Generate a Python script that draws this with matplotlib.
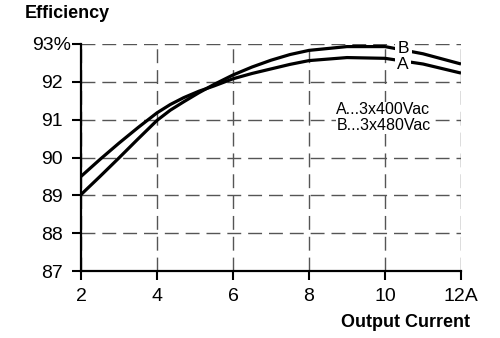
import numpy as np
import matplotlib.pyplot as plt
from matplotlib.transforms import ScaledTranslation

plt.rcParams['font.family'] = ['Liberation Sans', 'DejaVu Sans']

# Werte
x_a = [2, 2.5, 3, 3.5, 4, 4.35, 4.7, 5.1, 5.5, 6, 6.5, 7, 7.5, 8, 9, 10, 11, 12]
eff_a = [89.5, 89.95, 90.38, 90.79, 91.18, 91.4, 91.58, 91.75, 91.89, 92.08, 92.22, 92.34, 92.46, 92.56, 92.64, 92.62, 92.47, 92.23]
x_b = [2, 2.5, 3, 3.5, 4, 4.35, 4.7, 5.1, 5.5, 6, 6.5, 7, 7.5, 8, 9, 10, 11, 12]
eff_b = [89.02, 89.5, 89.99, 90.49, 90.98, 91.25, 91.47, 91.71, 91.93, 92.18, 92.39, 92.57, 92.72, 92.83, 92.93, 92.93, 92.74, 92.47]

xticks = [2, 4, 6, 8, 10, 12]
xlabels = ["2", "4", "6", "8", "10", "12A"]
yticks = [87, 88, 89, 90, 91, 92, 93]
ylabels = ["87", "88", "89", "90", "91", "92", "93%"]

fig = plt.figure(figsize=(5, 3.38), dpi=100)
ax = fig.add_axes([0.162, 0.198, 0.76, 0.672])

ax.plot(x_a, eff_a, c="black", lw=2.3, solid_capstyle="butt", zorder=3)
ax.plot(x_b, eff_b, c="black", lw=2.3, solid_capstyle="butt", zorder=3)

# Kurvenbeschriftung mit weissem Hintergrund (unterbricht die Linie)
ax.text(10.49, 92.87, "B", fontsize=12.5, ha="center", va="center", zorder=4,
        bbox=dict(facecolor="white", edgecolor="none", pad=1.8))
ax.text(10.48, 92.46, "A", fontsize=12.5, ha="center", va="center", zorder=4,
        bbox=dict(facecolor="white", edgecolor="none", pad=1.8))

ax.text(8.72, 91.26, "A...3x400Vac", fontsize=11.5, ha="left", va="center",
        bbox=dict(facecolor="white", edgecolor="none", pad=0.3))
ax.text(8.72, 90.84, "B...3x480Vac", fontsize=11.5, ha="left", va="center",
        bbox=dict(facecolor="white", edgecolor="none", pad=0.3))

ax.set_xlim(2, 12)
ax.set_ylim(87, 93)
ax.set_xticks(xticks)
ax.set_xticklabels(xlabels)
ax.set_yticks(yticks)
ax.set_yticklabels(ylabels)
ax.tick_params(axis="both", labelsize=14, direction="out", length=6.5, width=1.5, color="black")
ax.tick_params(axis="x", pad=6)
ax.tick_params(axis="y", pad=6.5)
# "93%" steht etwas weiter rechts
lbl = ax.get_yticklabels()[-1]
lbl.set_transform(lbl.get_transform() + ScaledTranslation(0.08, 0, fig.dpi_scale_trans))

ax.grid(True, ls=(0, (10, 5)), c="#555555", lw=1.0)
for s in ["top", "right"]:
    ax.spines[s].set_visible(False)
for s in ["left", "bottom"]:
    ax.spines[s].set_linewidth(1.6)

fig.text(0.05, 0.959, "Efficiency", fontsize=13, fontweight="bold", ha="left", va="center")
fig.text(0.94, 0.047, "Output Current", fontsize=13, fontweight="bold", ha="right", va="center")

plt.savefig("out.png", dpi=100)
